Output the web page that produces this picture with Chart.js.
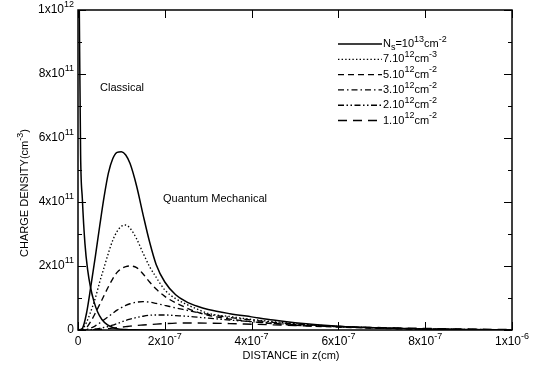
<!DOCTYPE html>
<html>
<head>
<meta charset="utf-8">
<script src="https://cdn.jsdelivr.net/npm/chart.js@4.4.1/dist/chart.umd.min.js"></script>
<style>
  html, body { margin: 0; background: #fff; }
  #wrap { width: 542px; height: 368px; }
</style>
</head>
<body>
<div id="wrap"><canvas id="densityChart"></canvas></div>
<script>
// distance z (cm) and charge density (cm^-3)
const zClassical = [0, 3e-9, 6e-9, 1e-8, 1.6e-8, 2.2e-8, 2.9e-8, 3.7e-8, 4.5e-8, 5.5e-8, 6.8e-8, 8e-8, 9e-8, 1.1e-7, 1.3e-7, 1.5e-7, 2e-7];
const nClassical = [1.4e12, 1.0e12, 5.5e11, 4.1e11, 2.7e11, 1.9e11, 1.32e11, 8.8e10, 5.7e10, 3.3e10, 1.6e10, 8e9, 4e9, 1.5e9, 5e8, 1e8, 0];

const zQuantum = [0, 1e-8, 2e-8, 3e-8, 4e-8, 5e-8, 6e-8, 7e-8, 8e-8, 9e-8, 1e-7, 1.1e-7, 1.2e-7, 1.35e-7, 1.5e-7, 1.65e-7, 1.8e-7, 2e-7, 2.25e-7, 2.5e-7, 2.75e-7, 3e-7, 3.5e-7, 4e-7, 4.5e-7, 5e-7, 6e-7, 7e-7, 8e-7, 9e-7, 1e-6];
const nNs1e13 = [0, 5e9, 5.5e10, 1.4e11, 2.3e11, 3.25e11, 4.15e11, 4.9e11, 5.35e11, 5.55e11, 5.57e11, 5.47e11, 5.2e11, 4.5e11, 3.6e11, 2.75e11, 2.05e11, 1.5e11, 1.1e11, 8.8e10, 7.4e10, 6.4e10, 5.1e10, 4.1e10, 3.1e10, 2.3e10, 1.2e10, 6.5e9, 3e9, 1.2e9, 4e8];
const nNs7e12 = [0, 3e9, 2.5e10, 6e10, 1.0e11, 1.5e11, 1.95e11, 2.4e11, 2.8e11, 3.08e11, 3.24e11, 3.28e11, 3.18e11, 2.85e11, 2.4e11, 1.98e11, 1.65e11, 1.25e11, 9.8e10, 8e10, 6.5e10, 5.2e10, 4.2e10, 3.3e10, 2.6e10, 2e10, 1.1e10, 6e9, 3e9, 1.2e9, 4e8];
const nNs5e12 = [0, 1e9, 8e9, 2.8e10, 5.3e10, 8e10, 1.08e11, 1.35e11, 1.6e11, 1.8e11, 1.92e11, 1.98e11, 2.0e11, 1.95e11, 1.75e11, 1.5e11, 1.28e11, 1.05e11, 8.5e10, 6.9e10, 5.6e10, 4.6e10, 3.4e10, 2.6e10, 2e10, 1.5e10, 9e9, 5e9, 2.5e9, 1e9, 4e8];
const nNs3e12 = [0, 0, 2e9, 6e9, 1.3e10, 2.2e10, 3.2e10, 4.2e10, 5.2e10, 6.2e10, 7e10, 7.7e10, 8.2e10, 8.7e10, 8.85e10, 8.7e10, 8.3e10, 7.7e10, 6.9e10, 6.2e10, 5.5e10, 4.9e10, 3.9e10, 3.1e10, 2.4e10, 1.9e10, 1.1e10, 6e9, 3e9, 1.3e9, 5e8];
const nNs2e12 = [0, 0, 0, 1e9, 3e9, 5e9, 8e9, 1.1e10, 1.5e10, 2e10, 2.5e10, 3e10, 3.4e10, 3.9e10, 4.3e10, 4.6e10, 4.7e10, 4.7e10, 4.5e10, 4.3e10, 4e10, 3.7e10, 3.1e10, 2.6e10, 2.1e10, 1.7e10, 1.1e10, 6.5e9, 3.5e9, 1.8e9, 8e8];
const nNs1e12 = [0, 0, 0, 5e8, 1e9, 2e9, 3e9, 4.5e9, 6e9, 7.5e9, 9e9, 1.05e10, 1.2e10, 1.4e10, 1.55e10, 1.7e10, 1.85e10, 2e10, 2.15e10, 2.2e10, 2.2e10, 2.15e10, 2e10, 1.8e10, 1.6e10, 1.4e10, 1.05e10, 7.5e9, 5e9, 3e9, 1.5e9];

const seriesLabels = ['N_{s}=10^{13}cm^{-2}', '7.10^{12}cm^{-3}', '5.10^{12}cm^{-2}', '3.10^{12}cm^{-2}', '2.10^{12}cm^{-2}', '1.10^{12}cm^{-2}'];
const xTickValues = [0, 2e-7, 4e-7, 6e-7, 8e-7, 1e-6];
const xTickLabels = ['0', '2x10^{-7}', '4x10^{-7}', '6x10^{-7}', '8x10^{-7}', '1x10^{-6}'];
const yTickValues = [0, 2e11, 4e11, 6e11, 8e11, 1e12];
const yTickLabels = ['0', '2x10^{11}', '4x10^{11}', '6x10^{11}', '8x10^{11}', '1x10^{12}'];

const FONT = "'Liberation Sans', Arial, Helvetica, sans-serif";
const dashes = [[], [1.4, 2.2], [6, 4], [6, 3, 1.5, 3], [6, 2.5, 1.5, 2.5, 1.5, 2.5], [9, 6]];

function pts(zs, ns) {
  return zs.map((z, i) => ({ x: z, y: ns[i] }));
}

const quantumSeries = [nNs1e13, nNs7e12, nNs5e12, nNs3e12, nNs2e12, nNs1e12];
const datasets = [{
  label: 'Classical',
  data: pts(zClassical, nClassical),
  borderColor: '#000',
  borderWidth: 1.5,
  pointRadius: 0,
  cubicInterpolationMode: 'monotone'
}];
quantumSeries.forEach((ns, i) => {
  datasets.push({
    label: seriesLabels[i],
    data: pts(zQuantum, ns),
    borderColor: '#000',
    borderWidth: i === 0 ? 1.5 : 1.35,
    borderDash: dashes[i],
    pointRadius: 0,
    cubicInterpolationMode: 'monotone'
  });
});

// text with ^{sup} and _{sub}
function parseRich(s) {
  const parts = [];
  const re = /([\^_])\{([^}]*)\}/g;
  let last = 0, m;
  while ((m = re.exec(s))) {
    if (m.index > last) parts.push({ t: s.slice(last, m.index), k: 0 });
    parts.push({ t: m[2], k: m[1] === '^' ? 1 : -1 });
    last = re.lastIndex;
  }
  if (last < s.length) parts.push({ t: s.slice(last), k: 0 });
  return parts;
}

function drawRich(ctx, s, x, y, size, align) {
  const parts = parseRich(s);
  const small = Math.round(size * 0.78);
  const widths = parts.map(p => {
    ctx.font = (p.k ? small : size) + 'px ' + FONT;
    return ctx.measureText(p.t).width;
  });
  const total = widths.reduce((a, b) => a + b, 0);
  let cx = align === 'right' ? x - total : align === 'center' ? x - total / 2 : x;
  ctx.textAlign = 'left';
  ctx.textBaseline = 'middle';
  parts.forEach((p, i) => {
    ctx.font = (p.k ? small : size) + 'px ' + FONT;
    const dy = p.k === 1 ? -size * 0.42 : p.k === -1 ? size * 0.3 : 0;
    ctx.fillText(p.t, cx, y + dy);
    cx += widths[i];
  });
}

function isMajor(v, list, step) {
  return list.some(t => Math.abs(t - v) < step * 1e-3);
}

const framePlugin = {
  id: 'frame',
  afterDatasetsDraw(chart) {
    const ctx = chart.ctx;
    const a = chart.chartArea;
    const xs = chart.scales.x, ys = chart.scales.y;
    ctx.save();
    ctx.strokeStyle = '#000';
    ctx.fillStyle = '#000';
    ctx.lineWidth = 1.5;
    ctx.strokeRect(a.left, a.top, a.right - a.left, a.bottom - a.top);

    // inward ticks on all four sides
    ctx.lineWidth = 1;
    ctx.beginPath();
    xs.ticks.forEach(t => {
      const px = Math.round(xs.getPixelForValue(t.value)) + 0.5;
      const len = isMajor(t.value, xTickValues, 5e-8) ? 8 : 4;
      ctx.moveTo(px, a.bottom); ctx.lineTo(px, a.bottom - len);
      ctx.moveTo(px, a.top); ctx.lineTo(px, a.top + len);
    });
    ys.ticks.forEach(t => {
      const py = Math.round(ys.getPixelForValue(t.value)) + 0.5;
      const len = isMajor(t.value, yTickValues, 5e10) ? 8 : 4;
      ctx.moveTo(a.left, py); ctx.lineTo(a.left + len, py);
      ctx.moveTo(a.right, py); ctx.lineTo(a.right - len, py);
    });
    ctx.stroke();

    // tick labels
    xTickValues.forEach((v, i) => {
      drawRich(ctx, xTickLabels[i], xs.getPixelForValue(v), a.bottom + 12, 12, 'center');
    });
    yTickValues.forEach((v, i) => {
      drawRich(ctx, yTickLabels[i], a.left - 4, ys.getPixelForValue(v), 12, 'right');
    });

    // axis titles
    drawRich(ctx, 'DISTANCE in z(cm)', (a.left + a.right) / 2 - 4, a.bottom + 26, 11, 'center');
    ctx.save();
    ctx.translate(25, 193);
    ctx.rotate(-Math.PI / 2);
    drawRich(ctx, 'CHARGE DENSITY(cm^{-3})', 0, 0, 11, 'center');
    ctx.restore();

    // annotations
    drawRich(ctx, 'Classical', 100, 88, 11, 'left');
    drawRich(ctx, 'Quantum Mechanical', 163, 199, 11, 'left');

    // legend
    chart.data.datasets.slice(1).forEach((ds, i) => {
      const y = 44 + i * 15.3;
      ctx.setLineDash(ds.borderDash || []);
      ctx.lineWidth = ds.borderWidth;
      ctx.beginPath();
      ctx.moveTo(338, y);
      ctx.lineTo(382, y);
      ctx.stroke();
      ctx.setLineDash([]);
      drawRich(ctx, ds.label, 383, y, 11, 'left');
    });
    ctx.restore();
  }
};

const ctx = document.getElementById('densityChart');

new Chart(ctx, {
  type: 'line',
  data: { datasets: datasets },
  options: {
    responsive: true,
    maintainAspectRatio: false,
    animation: false,
    layout: { padding: { left: 78, right: 30, top: 10, bottom: 38 } },
    plugins: {
      legend: { display: false },
      tooltip: { enabled: false }
    },
    scales: {
      x: { type: 'linear', min: 0, max: 1e-6, display: false, ticks: { stepSize: 5e-8 } },
      y: { type: 'linear', min: 0, max: 1e12, display: false, ticks: { stepSize: 5e10 } }
    }
  },
  plugins: [framePlugin]
});
</script>
</body>
</html>
